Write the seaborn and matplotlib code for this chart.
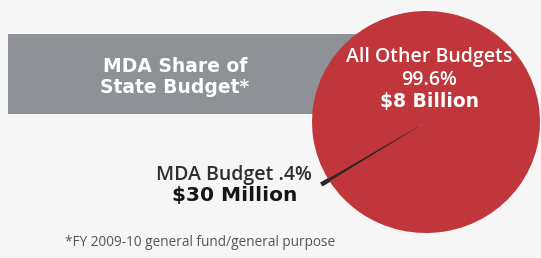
import matplotlib
matplotlib.use("Agg")
import matplotlib.pyplot as plt
import seaborn as sns
from matplotlib.patches import Rectangle

# data
budget_names = ["MDA Budget", "All Other Budgets"]
budget_shares = [0.4, 99.6]
budget_amounts = ["$30 Million", "$8 Billion"]
share_labels = [".4%", "99.6%"]
slice_colors = ["#2b2727", "#c1363a"]

sns.set_theme(style="white")
plt.rcParams["font.family"] = ["Open Sans", "DejaVu Sans"]

W, H = 541, 258
fig = plt.figure(figsize=(W / 100, H / 100), dpi=100)
fig.patch.set_facecolor("#f6f6f6")

# grey title band behind the pie
band = Rectangle((8 / W, 1 - 114 / H), 0.72, 80 / H, transform=fig.transFigure,
                 facecolor="#8e9195", edgecolor="none", zorder=-1)
fig.patches.append(band)

# pie (slightly oval, as in the scanned original)
cx, cy, rx, ry = 426, 122, 114, 111
ax = fig.add_axes([(cx - rx) / W, 1 - (cy + ry) / H, 2 * rx / W, 2 * ry / H])
wedges, _ = ax.pie(budget_shares, colors=slice_colors, startangle=210.8,
                   counterclock=True, explode=[0.07, 0], radius=1,
                   wedgeprops=dict(linewidth=0))
wedges[0].set_edgecolor(slice_colors[0])
wedges[0].set_linewidth(1.3)
ax.set_aspect("auto")
ax.set_xlim(-1, 1)
ax.set_ylim(-1, 1)
ax.axis("off")

def px(x, y):
    return x / W, 1 - y / H

bold = dict(fontweight="bold", family="DejaVu Sans", ha="center", va="center")
semi = dict(fontweight="semibold", ha="center", va="center")

fig.text(*px(175, 67), "MDA Share of", color="white", fontsize=13.5, **bold)
fig.text(*px(175, 88), "State Budget*", color="white", fontsize=13.5, **bold)

fig.text(*px(429, 57), budget_names[1], color="white", fontsize=14, **semi)
fig.text(*px(429, 80), share_labels[1], color="white", fontsize=14, **semi)
fig.text(*px(429, 102), budget_amounts[1], color="white", fontsize=13.5, **bold)

fig.text(*px(234, 175), budget_names[0] + " " + share_labels[0], color="#2e2e2e",
         fontsize=14, **semi)
fig.text(*px(235, 196), budget_amounts[0], color="#151515", fontsize=14.5, **bold)

fig.text(*px(65, 243), "*FY 2009-10 general fund/general purpose", color="#555555",
         fontsize=9.8, ha="left", va="center")

fig.savefig("out.png", dpi=100, facecolor=fig.get_facecolor())
